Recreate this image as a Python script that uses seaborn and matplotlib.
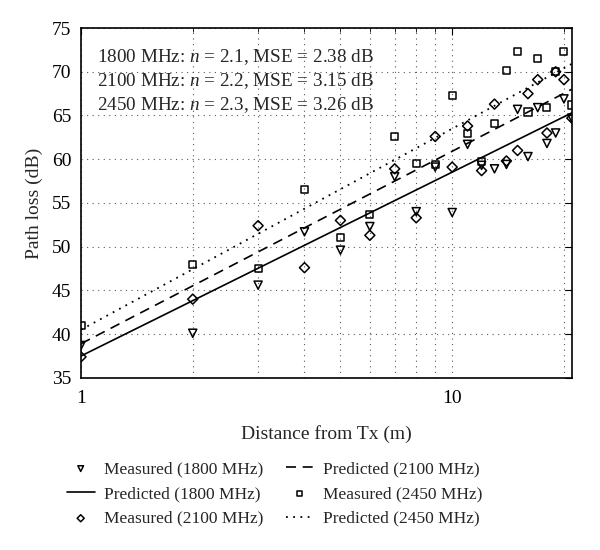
import numpy as np
import pandas as pd
import seaborn as sns
import matplotlib
matplotlib.use("Agg")
import matplotlib.pyplot as plt
from matplotlib.ticker import LogLocator, NullFormatter, FuncFormatter

# distances (m)
distance = [1, 2, 3, 4, 5, 6, 7, 8, 9, 10, 11, 12, 13, 14, 15, 16, 17, 18, 19, 20, 21]

# measured path loss (dB)
meas_1800 = [38.7, 40.1, 45.6, 51.7, 49.6, 52.3, 58.0, 54.0, 59.1, 53.9, 61.7,
             59.3, 58.9, 59.4, 65.7, 60.3, 65.9, 61.8, 63.0, 66.9, 64.7]
meas_2100 = [37.4, 44.0, 52.4, 47.6, 53.0, 51.3, 58.9, 53.3, 62.6, 59.1, 63.8,
             58.7, 66.3, 59.8, 61.0, 67.5, 69.1, 63.0, 70.0, 69.1, 64.7]
meas_2450 = [41.0, 48.0, 47.5, 56.5, 51.1, 53.7, 62.6, 59.5, 59.4, 67.3, 62.9,
             59.7, 64.1, 70.1, 72.3, 65.4, 71.5, 65.9, 70.0, 72.3, 66.2]

# predicted lines (straight on log axis) - end points
pred_x = [1, 21]
pred_1800 = [37.5, 65.3]
pred_2100 = [38.9, 68.0]
pred_2450 = [40.5, 70.9]

info_lines = [
    r"1800 MHz: $n$ = 2.1, MSE = 2.38 dB",
    r"2100 MHz: $n$ = 2.2, MSE = 3.15 dB",
    r"2450 MHz: $n$ = 2.3, MSE = 3.26 dB",
]

sns.set_style("white")
plt.rcParams['font.family'] = ['Liberation Serif', 'DejaVu Serif']
plt.rcParams['mathtext.fontset'] = 'custom'
plt.rcParams['mathtext.rm'] = 'Liberation Serif'
plt.rcParams['mathtext.it'] = 'Liberation Serif:italic'

fig = plt.figure(figsize=(6, 5.5), dpi=100)
ax = fig.add_axes([0.135, 0.313, 0.818, 0.636])

fs = 12.5
mk = dict(facecolor='none', edgecolor='black', linewidth=1.1, s=34)

sns.scatterplot(x=distance, y=meas_1800, marker='v', ax=ax, label='Measured (1800 MHz)', zorder=3, **mk)
sns.lineplot(x=pred_x, y=pred_1800, color='black', linewidth=1.2, ax=ax, label='Predicted (1800 MHz)')
sns.scatterplot(x=distance, y=meas_2100, marker='D', ax=ax, label='Measured (2100 MHz)', zorder=3,
                facecolor='none', edgecolor='black', linewidth=1.1, s=26)
sns.lineplot(x=pred_x, y=pred_2100, color='black', linewidth=1.2, linestyle=(0, (6, 4)), ax=ax,
             label='Predicted (2100 MHz)')
sns.scatterplot(x=distance, y=meas_2450, marker='s', ax=ax, label='Measured (2450 MHz)', zorder=3,
                facecolor='none', edgecolor='black', linewidth=1.1, s=26)
sns.lineplot(x=pred_x, y=pred_2450, color='black', linewidth=1.3, linestyle=(0, (1, 3)), ax=ax,
             label='Predicted (2450 MHz)')

ax.set_xscale('log')
ax.set_xlim(1, 21)
ax.set_ylim(35, 75)
ax.set_yticks(np.arange(35, 76, 5))
ax.xaxis.set_major_locator(LogLocator(base=10))
ax.xaxis.set_minor_locator(LogLocator(base=10, subs=np.arange(2, 10)))
ax.xaxis.set_major_formatter(FuncFormatter(lambda v, p: f"{v:g}"))
ax.xaxis.set_minor_formatter(NullFormatter())

ax.grid(which='both', axis='x', color='0.35', linestyle=(0, (1, 4)), linewidth=0.8)
ax.grid(which='major', axis='y', color='0.35', linestyle=(0, (1, 4)), linewidth=0.8)

ax.tick_params(which='both', direction='in', top=True, right=True, labelsize=14, colors='black')
ax.tick_params(which='major', length=5)
ax.tick_params(which='minor', length=3)
ax.tick_params(axis='y', pad=7)
ax.tick_params(axis='x', pad=9)
for s in ax.spines.values():
    s.set_color('black')
    s.set_linewidth(1.2)

ax.set_xlabel('Distance from Tx (m)', fontsize=14, labelpad=13)
ax.set_ylabel('Path loss (dB)', fontsize=14, labelpad=6)

for i, t in enumerate(info_lines):
    ax.text(0.032, 0.917 - i * 0.069, t, transform=ax.transAxes, fontsize=13.8,
            va='center', ha='left')

handles, labels = ax.get_legend_handles_labels()
ax.get_legend().remove()
fig.legend(handles, labels, loc='center', bbox_to_anchor=(0.458, 0.102), ncol=2,
           frameon=False, fontsize=fs, handlelength=1.6, handletextpad=0.55,
           columnspacing=1.3, labelspacing=0.5, markerscale=0.7)

fig.savefig('out.png', dpi=100)
